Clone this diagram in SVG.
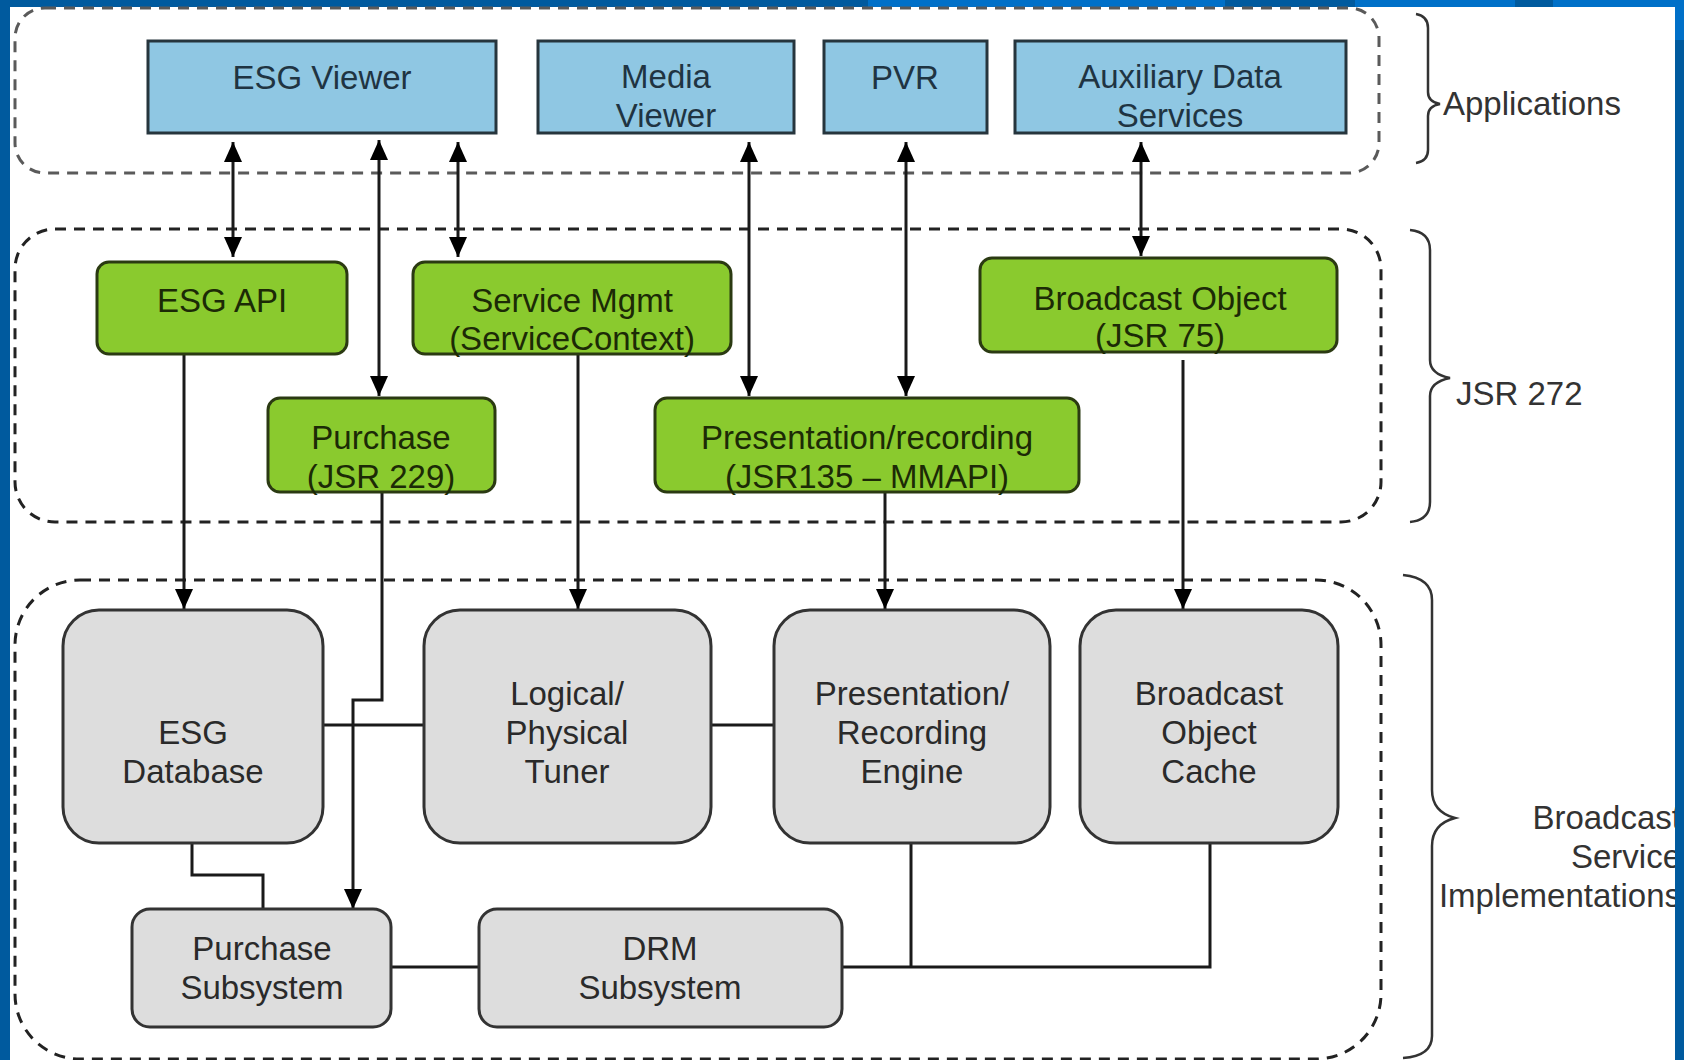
<svg xmlns="http://www.w3.org/2000/svg" width="1684" height="1060" viewBox="0 0 1684 1060">
<style>
text{font-family:"Liberation Sans",Arial,sans-serif;font-size:33px;text-anchor:middle}
.app rect{fill:#8fc7e3;stroke:#26353d;stroke-width:3}
.app text{fill:#1f3442}
.api rect{fill:#8aca2e;stroke:#2b3a12;stroke-width:3}
.api text{fill:#1c2a06}
.impl rect{fill:#dddddd;stroke:#333;stroke-width:3}
.impl text{fill:#2a2a2a}
.grp{fill:none;stroke-width:3;stroke-dasharray:11 8}
.brace{fill:none;stroke:#333;stroke-width:2.5}
.lbl{fill:#333;text-anchor:start}
.conn path{fill:none;stroke:#1a1a1a;stroke-width:3}
</style>
<defs>
<marker id="ah" viewBox="0 0 20 18" refX="20" refY="9" markerWidth="20" markerHeight="18" markerUnits="userSpaceOnUse" orient="auto-start-reverse">
<path d="M0,0 L20,9 L0,18 Z" fill="#000"/>
</marker>
</defs>
<rect width="1684" height="1060" fill="#fff"/>
<!-- frame -->
<rect x="0" y="0" width="1684" height="7" fill="#005a9e"/>
<rect x="868" y="0" width="357" height="7" fill="#0070c8"/>
<rect x="1355" y="0" width="160" height="7" fill="#0070c8"/>
<rect x="1553" y="0" width="131" height="7" fill="#0070c8"/>
<rect x="0" y="0" width="10" height="1060" fill="#005a9e"/>

<!-- groups -->
<rect class="grp" x="15" y="8" width="1364" height="165" rx="30" stroke="#5a5a5a"/>
<rect class="grp" x="15" y="229" width="1366" height="293" rx="40" stroke="#222"/>
<rect class="grp" x="15" y="580" width="1366" height="479" rx="65" stroke="#222"/>

<path class="brace" d="M1416,14 Q1428,16 1428,28 V92 Q1428,102 1440,104 Q1428,106 1428,116 V150 Q1428,161 1416,163"/>
<text class="lbl" x="1443" y="115">Applications</text>
<path class="brace" d="M1410,230 Q1430,232 1430,250 V360 Q1430,374 1450,378 Q1430,382 1430,396 V502 Q1430,520 1410,522"/>
<text class="lbl" x="1456" y="405">JSR 272</text>
<path class="brace" d="M1403,575 Q1432,578 1432,600 V790 Q1432,812 1455,818 Q1432,824 1432,846 V1036 Q1432,1056 1403,1058"/>
<g id="lbl-impl">
<text x="1681" y="829" style="text-anchor:end;fill:#333">Broadcast</text>
<text x="1681" y="868" style="text-anchor:end;fill:#333">Service</text>
<text x="1681" y="907" style="text-anchor:end;fill:#333">Implementations</text>
</g>
<rect x="1675" y="0" width="9" height="40" fill="#0070c8"/>
<rect x="1675" y="40" width="9" height="1020" fill="#005a9e"/>

<!-- connectors -->
<g class="conn">
<path d="M233,142 V257" marker-start="url(#ah)" marker-end="url(#ah)"/>
<path d="M379,140 V396" marker-start="url(#ah)" marker-end="url(#ah)"/>
<path d="M458,142 V257" marker-start="url(#ah)" marker-end="url(#ah)"/>
<path d="M749,142 V396" marker-start="url(#ah)" marker-end="url(#ah)"/>
<path d="M906,142 V396" marker-start="url(#ah)" marker-end="url(#ah)"/>
<path d="M1141,142 V256" marker-start="url(#ah)" marker-end="url(#ah)"/>
<path d="M184,354 V609" marker-end="url(#ah)"/>
<path d="M578,354 V609" marker-end="url(#ah)"/>
<path d="M885,492 V609" marker-end="url(#ah)"/>
<path d="M1183,360 V609" marker-end="url(#ah)"/>
<path d="M382,492 V700 H353 V909" marker-end="url(#ah)"/>
<path d="M323,725 H424"/>
<path d="M711,725 H774"/>
<path d="M192,843 V875 H263 V909"/>
<path d="M391,967 H479"/>
<path d="M842,967 H1210 V843"/>
<path d="M911,843 V967"/>
</g>

<!-- applications -->
<g id="esg-viewer" class="app"><rect x="148" y="41" width="348" height="92"/><text x="322" y="89">ESG Viewer</text></g>
<g id="media-viewer" class="app"><rect x="538" y="41" width="256" height="92"/><text x="666" y="88">Media</text><text x="666" y="127">Viewer</text></g>
<g id="pvr" class="app"><rect x="824" y="41" width="163" height="92"/><text x="905" y="89">PVR</text></g>
<g id="aux-data" class="app"><rect x="1015" y="41" width="331" height="92"/><text x="1180" y="88">Auxiliary Data</text><text x="1180" y="127">Services</text></g>

<!-- JSR 272 -->
<g id="esg-api" class="api"><rect x="97" y="262" width="250" height="92" rx="12"/><text x="222" y="312">ESG API</text></g>
<g id="service-mgmt" class="api"><rect x="413" y="262" width="318" height="92" rx="12"/><text x="572" y="312">Service Mgmt</text><text x="572" y="350">(ServiceContext)</text></g>
<g id="broadcast-object" class="api"><rect x="980" y="258" width="357" height="94" rx="12"/><text x="1160" y="310">Broadcast Object</text><text x="1160" y="347">(JSR 75)</text></g>
<g id="purchase" class="api"><rect x="268" y="398" width="227" height="94" rx="12"/><text x="381" y="449">Purchase</text><text x="381" y="488">(JSR 229)</text></g>
<g id="presentation-recording" class="api"><rect x="655" y="398" width="424" height="94" rx="12"/><text x="867" y="449">Presentation/recording</text><text x="867" y="488">(JSR135 – MMAPI)</text></g>

<!-- implementations -->
<g id="esg-database" class="impl"><rect x="63" y="610" width="260" height="233" rx="36"/><text x="193" y="744">ESG</text><text x="193" y="783">Database</text></g>
<g id="tuner" class="impl"><rect x="424" y="610" width="287" height="233" rx="36"/><text x="567" y="705">Logical/</text><text x="567" y="744">Physical</text><text x="567" y="783">Tuner</text></g>
<g id="engine" class="impl"><rect x="774" y="610" width="276" height="233" rx="36"/><text x="912" y="705">Presentation/</text><text x="912" y="744">Recording</text><text x="912" y="783">Engine</text></g>
<g id="cache" class="impl"><rect x="1080" y="610" width="258" height="233" rx="36"/><text x="1209" y="705">Broadcast</text><text x="1209" y="744">Object</text><text x="1209" y="783">Cache</text></g>
<g id="purchase-subsystem" class="impl"><rect x="132" y="909" width="259" height="118" rx="18"/><text x="262" y="960">Purchase</text><text x="262" y="999">Subsystem</text></g>
<g id="drm-subsystem" class="impl"><rect x="479" y="909" width="363" height="118" rx="18"/><text x="660" y="960">DRM</text><text x="660" y="999">Subsystem</text></g>
</svg>
